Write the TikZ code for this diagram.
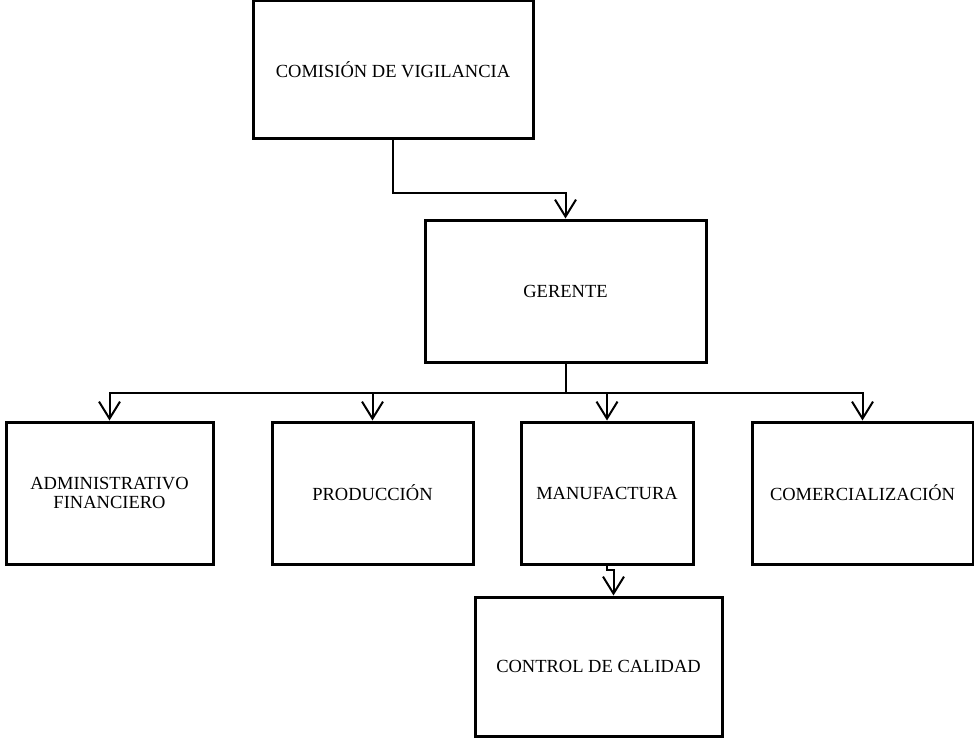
\documentclass[tikz,border=0pt]{standalone}
\usepackage{fontspec}
\setmainfont{Liberation Serif}
\usetikzlibrary{arrows.meta}
\begin{document}
\begin{tikzpicture}[x=1pt,y=-1pt,
  box/.style={draw, line width=3pt, rectangle, inner sep=0pt, align=center,
    font=\fontsize{18.5}{19.5}\selectfont},
  conn/.style={line width=2pt},
  arr/.style={conn, -{Straight Barb[length=17pt,width=21pt]}}]
\useasboundingbox (0,0) rectangle (974,738);
\node[box, minimum width=280pt, minimum height=138pt] (com) at (393,70) {COMISIÓN DE VIGILANCIA};
\node[box, minimum width=281pt, minimum height=142pt] (ger) at (565.5,291) {GERENTE};
\node[box, minimum width=207pt, minimum height=142pt] (adm) at (109.5,493) {ADMINISTRATIVO\\FINANCIERO};
\node[box, minimum width=201pt, minimum height=142pt] (pro) at (372.5,493) {PRODUCCIÓN};
\node[box, minimum width=172pt, minimum height=142pt] (man) at (607,493) {MANUFACTURA};
\node[box, minimum width=221pt, minimum height=142pt] (cme) at (862.5,493) {COMERCIALIZACIÓN};
\node[box, minimum width=247pt, minimum height=139pt] (ctl) at (598.5,666.5) {CONTROL DE CALIDAD};
\draw[arr] (com.south) -- ++(0,53) -| (ger.north);
\coordinate (bus) at (565.5,393);
\draw[conn] (ger.south) -- (bus);
\draw[arr] (bus) -| (adm.north);
\draw[arr] (bus) -| (pro.north);
\draw[arr] (bus) -| (man.north);
\draw[arr] (bus) -| (cme.north);
\draw[arr] (man.south) -- ++(0,4) -| ([xshift=15pt]ctl.north);
\end{tikzpicture}
\end{document}
